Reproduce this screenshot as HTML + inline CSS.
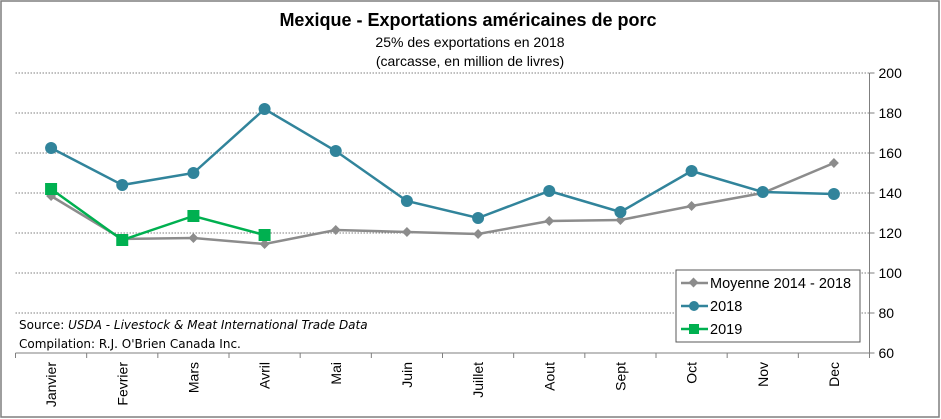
<!DOCTYPE html>
<html><head><meta charset="utf-8"><style>
html,body{margin:0;padding:0;background:#fff;}
svg{display:block;font-family:"Liberation Sans",Arial,sans-serif;}
</style></head><body>
<svg id="c" width="941" height="419" viewBox="0 0 941 419">
<rect x="1" y="1" width="938" height="416" fill="#fff" stroke="#7f7f7f" stroke-width="1.5"/>
<text x="468" y="26" text-anchor="middle" font-size="18" font-weight="bold">Mexique - Exportations américaines de porc</text>
<text x="470" y="47" text-anchor="middle" font-size="14">25% des exportations en 2018</text>
<text x="470" y="66" text-anchor="middle" font-size="14">(carcasse, en million de livres)</text>
<g id="grid"></g>
<g id="axes"></g>
<g id="series"></g>
<text x="19" y="329" font-size="12" font-family="'DejaVu Sans',sans-serif">Source: <tspan font-style="italic">USDA - Livestock &amp; Meat International Trade Data</tspan></text>
<text x="19" y="348" font-size="12" font-family="'DejaVu Sans',sans-serif">Compilation: R.J. O'Brien Canada Inc.</text>
<g>
<rect x="676" y="270" width="184" height="72" fill="#fff" stroke="#595959"/>
<g><line x1="681" y1="283" x2="708" y2="283" stroke="#8c8c8c" stroke-width="2.5"/><rect x="690" y="279" width="7" height="7" fill="#8c8c8c" transform="rotate(45 693.5 282.5)"/><text x="710" y="288" font-size="14.5">Moyenne 2014 - 2018</text></g>
<g><line x1="681" y1="306" x2="708" y2="306" stroke="#31849b" stroke-width="2.5"/><circle cx="694" cy="306" r="5" fill="#31849b"/><text x="710" y="311" font-size="14.5">2018</text></g>
<g><line x1="681" y1="329" x2="708" y2="329" stroke="#00b050" stroke-width="2.5"/><rect x="689" y="324" width="10" height="10" fill="#00b050"/><text x="710" y="334" font-size="14.5">2019</text></g>
</g>
</svg>
<script>
const months=["Janvier","Fevrier","Mars","Avril","Mai","Juin","Juillet","Aout","Sept","Oct","Nov","Dec"];
const moyenne=[138.5,117,117.5,114.5,121.5,120.5,119.5,126,126.5,133.5,140,155];
const y2018=[162.5,144,150,182,161,136,127.5,141,130.5,151,140.5,139.5];
const y2019=[142,116.5,128.5,119];
const yTicks=[60,80,100,120,140,160,180,200];
const NS="http://www.w3.org/2000/svg";
const L=15.5,R=869.5,T=73,B=353,yMin=60,yMax=200;
const bw=(R-L)/months.length;
const xs=i=>L+bw*(i+0.5);
const ys=v=>B-(v-yMin)/(yMax-yMin)*(B-T);
function mk(t,a,p){const e=document.createElementNS(NS,t);for(const k in a)e.setAttribute(k,a[k]);p.appendChild(e);return e;}
const grid=document.getElementById('grid'),axes=document.getElementById('axes'),ser=document.getElementById('series');
yTicks.forEach(v=>{
 if(v>yMin){const g=mk('line',{x1:L,x2:R,y1:ys(v),y2:ys(v),stroke:'#7f7f7f','stroke-dasharray':'1.5 1.5'},grid);
 
 }
 const tk=mk('line',{x1:R,x2:R+5,y1:ys(v),y2:ys(v),stroke:'#7f7f7f'},axes);
 
 
 const t=mk('text',{x:R+9,y:ys(v)+5,'font-size':14},axes);t.textContent=v;
 
 
});
const ya=mk('line',{x1:R,x2:R,y1:T,y2:B+5,stroke:'#7f7f7f'},axes);


const xa=mk('line',{x1:L,x2:R,y1:B,y2:B,stroke:'#7f7f7f'},axes);


for(let i=0;i<=months.length;i++){const tk=mk('line',{x1:L+bw*i,x2:L+bw*i,y1:B,y2:B+5,stroke:'#7f7f7f'},axes);
 
 }
months.forEach((m,i)=>{const x=xs(i)+5,y=B+9;
 const t=mk('text',{x:x,y:y,'font-size':14,'text-anchor':'end',transform:`rotate(-90 ${x} ${y})`},axes);t.textContent=m;
 
 });
function line(data,color,name,marker){
 const g=mk('g',{},ser);
 
 
 const pl=mk('polyline',{points:data.map((v,i)=>xs(i)+','+ys(v)).join(' '),fill:'none',stroke:color,'stroke-width':2.5},g);
 
 
 data.forEach((v,i)=>{const x=xs(i),y=ys(v);let m;
  if(marker==='d')m=mk('rect',{x:x-3.5,y:y-3.5,width:7,height:7,fill:color,transform:`rotate(45 ${x} ${y})`},g);
  else if(marker==='c')m=mk('circle',{cx:x,cy:y,r:6,fill:color},g);
  else m=mk('rect',{x:x-6,y:y-6,width:12,height:12,fill:color},g);
  
  });
}
line(moyenne,'#8c8c8c','moyenne','d');
line(y2018,'#31849b','2018','c');
line(y2019,'#00b050','2019','s');
</script>
</body></html>
